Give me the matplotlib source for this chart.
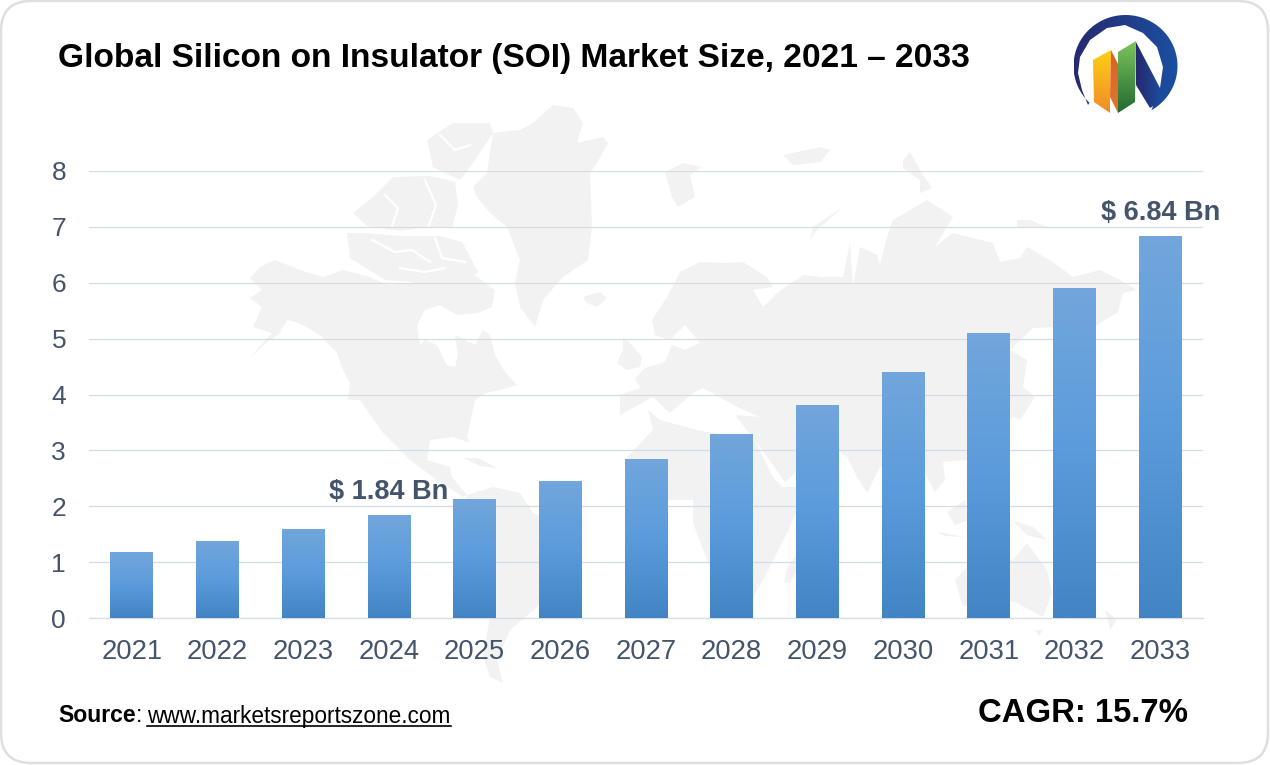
import numpy as np
from matplotlib import pyplot as plt
from matplotlib.colors import LinearSegmentedColormap
from matplotlib.patches import FancyBboxPatch, Polygon

# chart data
years = ['2021', '2022', '2023', '2024', '2025', '2026', '2027',
         '2028', '2029', '2030', '2031', '2032', '2033']
market_size = [1.18, 1.38, 1.60, 1.84, 2.13, 2.45, 2.84,
               3.30, 3.82, 4.40, 5.10, 5.90, 6.84]
y_ticks = [0, 1, 2, 3, 4, 5, 6, 7, 8]
bar_labels = {'2024': '$ 1.84 Bn', '2033': '$ 6.84 Bn'}

TEXT_BLUE = '#44546a'
GRID = '#d6dce7'
MAP_GREY = '#f2f2f2'

# world map backdrop, traced roughly in picture pixels
north_america = [(250, 278), (260, 267), (275, 260), (300, 270), (323, 277), (343, 270),
                 (370, 277), (387, 285), (413, 283), (430, 273), (457, 263), (477, 277),
                 (495, 290), (492, 307), (478, 313), (457, 315), (440, 305), (425, 310),
                 (417, 325), (420, 345), (425, 340), (437, 345), (447, 365), (455, 367),
                 (458, 355), (455, 335), (475, 345), (483, 330), (490, 335), (495, 355),
                 (505, 372), (517, 385), (500, 390), (485, 393), (475, 400), (467, 437),
                 (470, 443), (453, 437), (430, 440), (427, 460), (450, 467), (452, 477),
                 (467, 495), (463, 497), (437, 480), (410, 460), (383, 433), (360, 400),
                 (348, 400), (350, 383), (343, 370), (337, 353), (322, 337), (307, 327),
                 (295, 322), (287, 320), (280, 333), (270, 340), (250, 357), (272, 333),
                 (253, 327), (262, 307), (250, 298), (262, 290)]
south_america = [(467, 495), (493, 487), (520, 493), (533, 513), (580, 533), (567, 567),
                 (537, 607), (510, 630), (497, 660), (503, 683), (490, 677), (483, 657),
                 (490, 617), (480, 590), (455, 540), (460, 510)]
greenland = [(490, 213), (477, 197), (473, 187), (487, 173), (493, 133), (520, 130),
             (533, 123), (553, 105), (573, 108), (583, 123), (577, 143), (603, 137),
             (608, 143), (597, 163), (590, 173), (592, 227), (588, 260), (563, 277),
             (543, 300), (535, 327), (520, 307), (515, 283), (520, 260), (507, 227)]
arctic_islands = [
    [(353, 213), (373, 197), (393, 177), (430, 176), (455, 182), (458, 205), (452, 228),
     (420, 228), (400, 231), (367, 226)],
    [(427, 140), (453, 123), (490, 123), (493, 133), (473, 163), (460, 180), (433, 167)],
    [(347, 233), (367, 233), (400, 236), (440, 236), (462, 242), (478, 272), (470, 278),
     (425, 283), (385, 280), (350, 258)],
]
arctic_channels = [
    [(385, 195), (398, 208), (392, 226)],
    [(425, 180), (436, 205), (428, 228)],
    [(372, 240), (395, 252), (412, 250), (430, 262)],
    [(435, 238), (442, 258), (465, 262)],
    [(400, 268), (425, 272), (445, 268)],
    [(440, 135), (455, 150), (470, 145)],
]
small_islands = [
    [(583, 297), (600, 292), (607, 298), (597, 307), (587, 303)],
    [(665, 172), (683, 163), (702, 167), (690, 175), (695, 197), (678, 207), (672, 197)],
    [(623, 337), (630, 343), (642, 357), (640, 367), (627, 370), (617, 363), (623, 350)],
    [(842, 208), (813, 227), (810, 240), (817, 230)],
    [(783, 155), (820, 147), (830, 150), (820, 162), (793, 165)],
    [(903, 160), (910, 152), (920, 170), (932, 188), (920, 193), (920, 180), (903, 168)],
    [(1017, 220), (1030, 220), (1047, 227), (1017, 227)],
    [(463, 458), (478, 458), (497, 468), (480, 466)],
    [(800, 550), (787, 568), (784, 582), (790, 583), (800, 565)],
    [(1105, 610), (1117, 620), (1110, 630), (1108, 620)],
    [(1035, 630), (1043, 630), (1039, 636)],
    [(1012, 520), (1033, 527), (1047, 540), (1027, 535)],
    [(947, 512), (965, 500), (968, 520), (955, 525)],
    [(927, 507), (937, 530), (932, 518)],
    [(937, 532), (965, 537), (945, 536)],
    [(1025, 393), (1035, 397), (1020, 420), (1012, 417)],
]
eurasia = [(720, 263), (743, 262), (767, 277), (773, 287), (753, 290), (763, 307),
           (777, 293), (803, 275), (823, 277), (843, 277), (850, 243), (853, 287),
           (860, 247), (877, 255), (880, 265), (887, 237), (893, 220), (927, 200),
           (953, 217), (935, 247), (953, 233), (993, 243), (1000, 262), (1020, 258),
           (1027, 247), (1053, 262), (1073, 277), (1100, 270), (1120, 280), (1137, 290),
           (1123, 293), (1118, 312), (1097, 325), (1033, 328), (1010, 350), (1027, 360),
           (1023, 387), (1033, 395), (1020, 413), (1013, 417), (967, 460), (943, 462),
           (945, 480), (935, 492), (923, 470), (880, 467), (867, 493), (857, 477),
           (847, 457), (838, 450), (815, 455), (785, 482), (760, 447), (735, 415),
           (760, 417), (737, 407), (703, 388), (693, 393), (670, 413), (653, 397),
           (620, 415), (620, 395), (640, 388), (635, 378), (645, 368), (665, 362),
           (672, 345), (685, 350), (700, 343), (685, 325), (670, 340), (655, 335),
           (652, 320), (667, 297), (680, 272), (700, 262)]
africa = [(648, 410), (653, 430), (627, 457), (630, 490), (670, 500), (693, 500),
          (693, 523), (707, 560), (730, 607), (750, 603), (763, 580), (787, 533),
          (807, 487), (782, 487), (773, 477), (753, 437), (733, 437), (697, 430), (660, 420)]
australia = [(1027, 543), (1047, 570), (1052, 593), (1043, 617), (1017, 603), (993, 597),
             (963, 607), (955, 580), (967, 567), (993, 557), (1013, 560)]

# inner edge of the logo crescent, from its right end to the thin tip
crescent_inner = [(1160, 88), (1163, 67), (1157, 47), (1143, 33), (1125, 25), (1107, 28),
                  (1090, 40), (1080, 57), (1078, 73), (1082, 90), (1088, 105)]

fig = plt.figure(figsize=(12.7, 7.65), dpi=100, facecolor='white')
plt.rcParams['font.family'] = ['Liberation Sans', 'DejaVu Sans']

# background layer in picture pixels
bg = fig.add_axes([0, 0, 1, 1], zorder=0)
bg.axis('off')


def gradient_polygon(pts, colors, horizontal=False):
    # gradient image clipped to a polygon, used for the logo
    pts = np.array(pts)
    grad = np.linspace(0, 1, 128)
    grad = grad.reshape(1, -1) if horizontal else grad.reshape(-1, 1)
    cmap = LinearSegmentedColormap.from_list('logo', colors)
    img = bg.imshow(grad, cmap=cmap, aspect='auto', zorder=3, origin='upper',
                    extent=[pts[:, 0].min(), pts[:, 0].max(),
                            pts[:, 1].max(), pts[:, 1].min()])
    patch = Polygon(pts, closed=True, transform=bg.transData, fill=False, lw=0)
    bg.add_patch(patch)
    img.set_clip_path(patch)


bg.add_patch(FancyBboxPatch((1, 1), 1267, 762, boxstyle='round,pad=0,rounding_size=30',
                            facecolor='white', edgecolor='#dfdfdf', lw=1.8, zorder=0))

land = [north_america, south_america, greenland, eurasia, africa, australia]
for shape in land + arctic_islands + small_islands:
    bg.add_patch(Polygon(shape, closed=True, facecolor=MAP_GREY, edgecolor='none', zorder=1))
for channel in arctic_channels:
    bg.plot(*zip(*channel), color='white', lw=1.6, zorder=1.5)

# logo: crescent, then the three folded strips
angles = np.radians(np.linspace(226, -60, 90))
crescent_outer = np.column_stack([1125.5 + 52 * np.cos(angles), 66 - 51 * np.sin(angles)])
gradient_polygon(np.vstack([crescent_outer, crescent_inner]), ['#262a6f', '#1b4fa2'],
                 horizontal=True)
gradient_polygon([(1136, 42), (1161, 90), (1163, 100), (1150, 108), (1136, 85)],
                 ['#26276c', '#1b4fa2'], horizontal=True)
gradient_polygon([(1093, 60), (1111, 50), (1110, 97), (1110, 113), (1094, 102)],
                 ['#fdcf14', '#f08c28'])
gradient_polygon([(1111, 50), (1118, 64), (1118, 113), (1110, 97)],
                 ['#d9622a', '#e0782c'])
gradient_polygon([(1118, 52), (1136, 41), (1135, 102), (1118, 113)],
                 ['#7cc55b', '#226a31'])

bg.set_xlim(0, 1270)
bg.set_ylim(765, 0)

# chart layer, the plot area runs 89-1203 px across and 171-618 px down
ax = fig.add_axes([89 / 1270, 1 - 618 / 765, 1114 / 1270, 447 / 765], zorder=1)
ax.patch.set_alpha(0)

bar_cmap = LinearSegmentedColormap.from_list('bar', ['#72a6dc', '#5b9bdb', '#4284c4'])
x = np.arange(len(years))
bars = ax.bar(x, market_size, width=0.5, color='none', zorder=3)
for rect in bars:
    img = ax.imshow(np.linspace(0, 1, 128).reshape(-1, 1), cmap=bar_cmap, aspect='auto', zorder=3,
                    extent=[rect.get_x(), rect.get_x() + rect.get_width(),
                            0, rect.get_height()])
    img.set_clip_path(rect)

ax.set_xlim(-0.5, len(years) - 0.5)
ax.set_ylim(0, 8)
ax.set_xticks(x)
ax.set_xticklabels(years)
ax.set_yticks(y_ticks)
ax.tick_params(axis='x', length=0, pad=15, labelsize=19.7, labelcolor=TEXT_BLUE)
ax.tick_params(axis='y', length=0, pad=16.5, labelsize=19, labelcolor=TEXT_BLUE)
ax.grid(axis='y', color=GRID, lw=0.9, zorder=1)
ax.set_axisbelow(True)
for name in ['top', 'right', 'left']:
    ax.spines[name].set_visible(False)
ax.spines['bottom'].set_color(GRID)
ax.spines['bottom'].set_linewidth(0.9)

for year, label in bar_labels.items():
    i = years.index(year)
    ax.annotate(label, (i, market_size[i]), xytext=(0, 7), textcoords='offset points',
                ha='center', va='bottom', fontsize=19.5, fontweight='bold',
                color=TEXT_BLUE, annotation_clip=False)

# title and footer
bg.text(58, 58, 'Global Silicon on Insulator (SOI) Market Size, 2021 \u2013 2033',
        fontsize=24.1, fontweight='bold', color='black', va='center', ha='left')
bg.text(58, 716, 'Source', fontsize=16.6, fontweight='bold', color='black', va='center')
bg.text(136, 716, ':', fontsize=16.3, color='black', va='center')
bg.text(147, 716, 'www.marketsreportszone.com', fontsize=16.3, color='black', va='center')
bg.plot([147, 451], [726, 726], color='black', lw=1.2, zorder=4)
bg.text(1188, 713, 'CAGR: 15.7%', fontsize=23.7, fontweight='bold', color='black',
        va='center', ha='right')
bg.set_xlim(0, 1270)
bg.set_ylim(765, 0)

fig.savefig('out.png', dpi=100)
